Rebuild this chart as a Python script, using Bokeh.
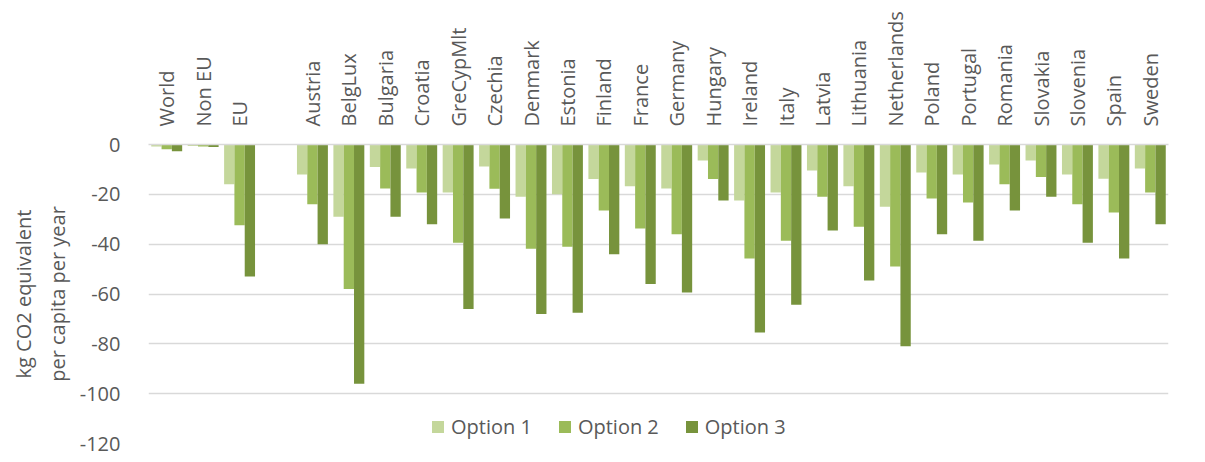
import math
from math import pi
from bokeh.plotting import figure
from bokeh.models import FactorRange, Range1d, FixedTicker, Legend, LegendItem, ColumnDataSource
from bokeh.transform import dodge
from bokeh.embed import file_html
from bokeh.resources import INLINE

nan = float("nan")

categories = ["World", "Non EU", "EU", " ", "Austria", "BelgLux", "Bulgaria", "Croatia",
              "GreCypMlt", "Czechia", "Denmark", "Estonia", "Finland", "France", "Germany",
              "Hungary", "Ireland", "Italy", "Latvia", "Lithuania", "Netherlands", "Poland",
              "Portugal", "Romania", "Slovakia", "Slovenia", "Spain", "Sweden"]
option1 = [-0.8, -0.6, -16, nan, -12, -29, -9, -9.6, -19.3, -8.8, -21, -20, -13.8, -16.8,
           -17.7, -6.4, -22.5, -19.3, -10.4, -16.8, -25, -11.2, -12, -8, -6.4, -12, -13.7, -9.6]
option2 = [-1.9, -0.8, -32.4, nan, -24, -58, -17.7, -19.3, -39.4, -17.8, -41.8, -41, -26.5, -33.7,
           -36, -13.8, -45.8, -38.6, -21, -33, -49, -21.7, -23.3, -16, -13, -24, -27.3, -19.3]
option3 = [-2.7, -1.0, -53, nan, -40, -96, -29, -32, -66, -29.7, -68, -67.5, -44, -56,
           -59.4, -22.5, -75.5, -64.3, -34.5, -54.6, -81, -36, -38.6, -26.5, -21, -39.4, -45.8, -32]
series_names = ["Option 1", "Option 2", "Option 3"]
y_ticks = [0, -20, -40, -60, -80, -100, -120]

colors = ["#c4d79b", "#9bbb59", "#77933c"]
FONT = "Open Sans"
TXT = "#595959"
GRID = "#d9d9d9"

source = ColumnDataSource(dict(cat=categories, o1=option1, o2=option2, o3=option3))

p = figure(x_range=FactorRange(*categories), y_range=Range1d(-120, 0),
           width=1189, height=455, output_backend="svg", toolbar_location=None,
           x_axis_location="above")
p.min_border_left = 148
p.min_border_right = 21
p.min_border_top = 144
p.min_border_bottom = 12
p.outline_line_color = None
p.x_range.range_padding = 0

bw = 0.283
renderers = []
for i, col in enumerate(["o1", "o2", "o3"]):
    r = p.vbar(x=dodge("cat", (i - 1) * bw, range=p.x_range), top=0, bottom=col,
               width=bw, source=source, fill_color=colors[i], line_color=None)
    renderers.append(r)

# x axis (above)
xa = p.xaxis[0]
xa.major_label_orientation = pi / 2
xa.axis_line_color = GRID
xa.axis_line_width = 1.5
xa.major_tick_line_color = None
xa.minor_tick_line_color = None
xa.major_label_standoff = 12
xa.major_label_text_font = FONT
xa.major_label_text_font_size = "20px"
xa.major_label_text_color = TXT

# y axis
ya = p.yaxis[0]
ya.ticker = FixedTicker(ticks=y_ticks)
ya.major_label_overrides = {t: str(t) for t in y_ticks}
ya.axis_line_color = None
ya.major_tick_line_color = None
ya.minor_tick_line_color = None
ya.major_label_standoff = 22
ya.major_label_text_font = FONT
ya.major_label_text_font_size = "20px"
ya.major_label_text_color = TXT
ya.axis_label = "kg CO2 equivalent\nper capita per year"
ya.axis_label_text_font = FONT
ya.axis_label_text_font_size = "20px"
ya.axis_label_text_font_style = "normal"
ya.axis_label_text_color = TXT
ya.axis_label_text_line_height = 1.25
ya.axis_label_standoff = 6

p.xgrid.grid_line_color = None
p.ygrid.grid_line_color = GRID
p.ygrid.grid_line_width = 1.5
p.ygrid.ticker = FixedTicker(ticks=y_ticks)

legend = Legend(items=[LegendItem(label=series_names[i], renderers=[renderers[i]]) for i in range(3)],
                orientation="horizontal", location=(282, 3))
legend.glyph_width = 15
legend.glyph_height = 15
legend.label_standoff = 6
legend.spacing = 25
legend.padding = 0
legend.margin = 0
legend.border_line_color = None
legend.background_fill_alpha = 0
legend.label_text_font = FONT
legend.label_text_font_size = "20px"
legend.label_text_color = TXT
p.add_layout(legend, "center")

open("out.html", "w").write(file_html(p, INLINE))
